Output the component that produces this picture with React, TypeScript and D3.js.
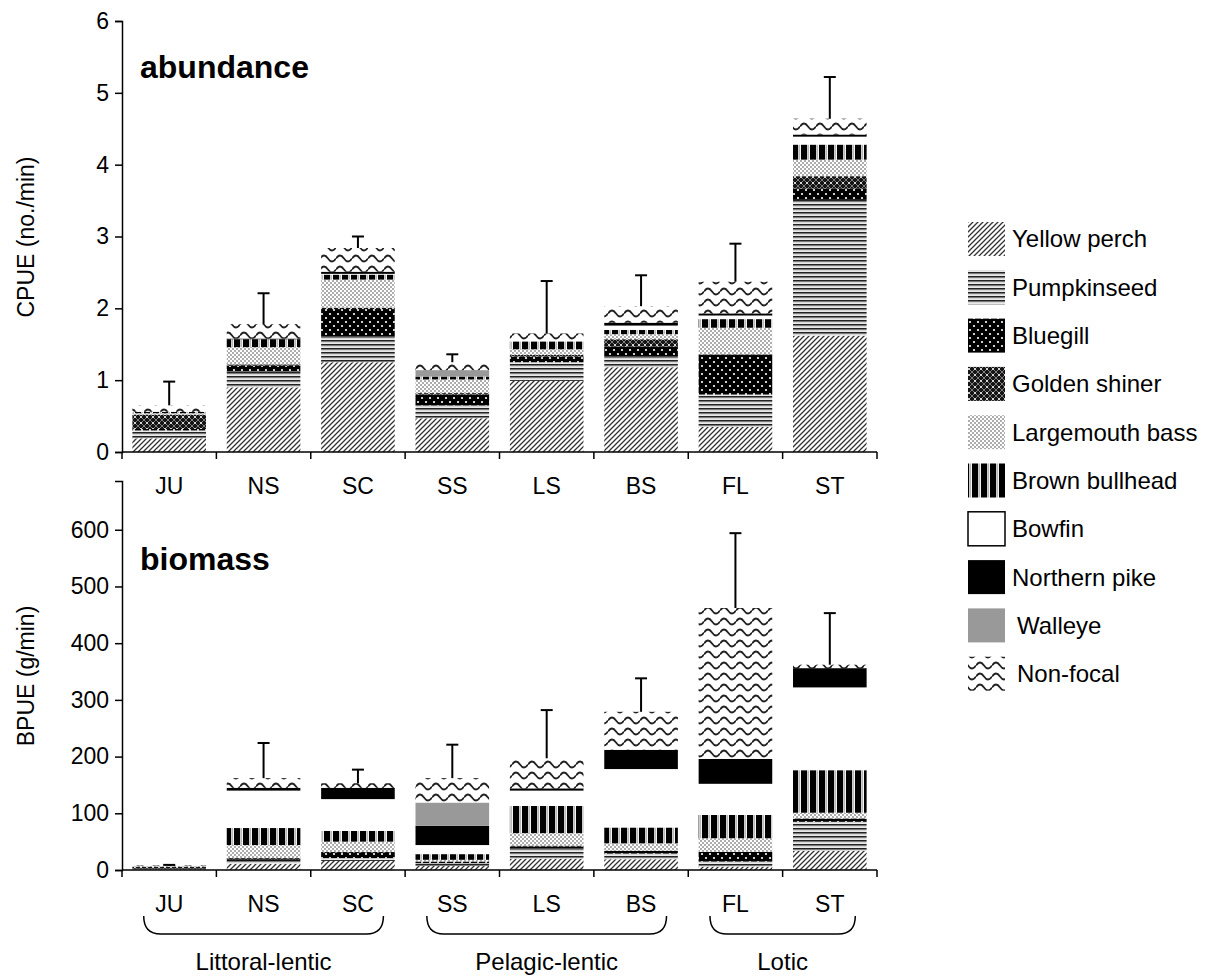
import { useEffect, useRef } from 'react'
import * as d3 from 'd3'

// sites along the x axis
const sites = ['JU', 'NS', 'SC', 'SS', 'LS', 'BS', 'FL', 'ST']

// stacking order, bottom to top
const species = [
  'Yellow perch',
  'Pumpkinseed',
  'Bluegill',
  'Golden shiner',
  'Largemouth bass',
  'Brown bullhead',
  'Bowfin',
  'Northern pike',
  'Walleye',
  'Non-focal',
]

// CPUE (no./min), one row per site, columns follow `species`
const abundance = [
  [0.19, 0.11, 0.02, 0.2, 0.02, 0.02, 0, 0, 0, 0.09],
  [0.9, 0.22, 0.08, 0.02, 0.24, 0.11, 0, 0.01, 0, 0.2],
  [1.25, 0.36, 0.38, 0.02, 0.39, 0.07, 0.01, 0.03, 0, 0.33],
  [0.47, 0.18, 0.15, 0.02, 0.19, 0.04, 0, 0, 0.09, 0.11],
  [0.99, 0.26, 0.08, 0.02, 0.08, 0.11, 0, 0, 0, 0.11],
  [1.18, 0.15, 0.14, 0.1, 0.07, 0.06, 0.06, 0.04, 0, 0.23],
  [0.35, 0.45, 0.55, 0.01, 0.37, 0.12, 0.05, 0.03, 0, 0.44],
  [1.62, 1.89, 0.16, 0.17, 0.23, 0.21, 0.11, 0.03, 0, 0.22],
]
// mean + SE (top of error bar)
const abundanceErr = [0.98, 2.21, 3.0, 1.36, 2.38, 2.46, 2.9, 5.22]

// BPUE (g/min)
const biomass = [
  [1, 1, 1, 3, 1, 0, 0, 0, 0, 1],
  [11, 5, 3, 2, 23, 30, 66, 5, 0, 17],
  [16, 5, 9, 2, 18, 19, 56, 20, 0, 8],
  [7, 5, 3, 0, 3, 10, 16, 34, 41, 43],
  [20, 18, 3, 2, 22, 48, 27, 4, 0, 53],
  [19, 10, 5, 0, 13, 28, 103, 34, 0, 67],
  [6, 9, 17, 0, 24, 41, 55, 44, 0, 266],
  [34, 51, 6, 0, 10, 75, 146, 34, 0, 6],
]
const biomassErr = [9, 224, 177, 221, 282, 338, 594, 453]

const cpueTicks = [0, 1, 2, 3, 4, 5, 6]
const bpueTicks = [0, 100, 200, 300, 400, 500, 600]
const bpueAxisTop = 686

const habitats = [
  { label: 'Littoral-lentic', first: 'JU', last: 'SC' },
  { label: 'Pelagic-lentic', first: 'SS', last: 'BS' },
  { label: 'Lotic', first: 'FL', last: 'ST' },
]

const FONT = '"Liberation Sans", Arial, Helvetica, sans-serif'

export default function App() {
  const svgRef = useRef<SVGSVGElement>(null)

  useEffect(() => {
    if (!svgRef.current) return
    document.body.style.margin = '0'

    const svg = d3.select(svgRef.current)
    svg.selectAll('*').remove()

    const width = 1212
    const height = 978
    svg.attr('width', width).attr('height', height).style('font-family', FONT)

    // ---- patterns ----
    const defs = svg.append('defs')
    const pat = (id: string, w: number, h: number, bg: string) => {
      const p = defs
        .append('pattern')
        .attr('id', id)
        .attr('patternUnits', 'userSpaceOnUse')
        .attr('width', w)
        .attr('height', h)
      p.append('rect').attr('width', w).attr('height', h).attr('fill', bg)
      return p
    }

    // yellow perch: diagonal lines
    pat('p0', 5, 5, '#fff')
      .append('path')
      .attr('d', 'M-1,1 l2,-2 M0,5 l5,-5 M4,6 l2,-2')
      .attr('stroke', '#333')
      .attr('stroke-width', 1.3)

    // pumpkinseed: horizontal lines
    const p1 = pat('p1', 4, 4, '#fff')
    p1.append('rect').attr('width', 4).attr('height', 1.6).attr('fill', '#222')
    p1.append('rect').attr('y', 2.6).attr('width', 4).attr('height', 0.6).attr('fill', '#999')

    // bluegill: white dots on black
    const p2 = pat('p2', 8, 8, '#000')
    p2.append('circle').attr('cx', 2).attr('cy', 2).attr('r', 1.1).attr('fill', '#fff')
    p2.append('circle').attr('cx', 6).attr('cy', 6).attr('r', 1.1).attr('fill', '#fff')

    // golden shiner: dark crosshatch
    const p3 = pat('p3', 6, 6, '#151515')
    p3.append('path').attr('d', 'M0,0 L6,6 M6,0 L0,6').attr('stroke', '#888').attr('stroke-width', 0.9)
    p3.append('circle').attr('cx', 3).attr('cy', 3).attr('r', 0.9).attr('fill', '#fff')

    // largemouth bass: fine dark stipple on white
    const p4 = pat('p4', 4, 4, '#fff')
    p4.append('circle').attr('cx', 1).attr('cy', 1).attr('r', 0.8).attr('fill', '#444')
    p4.append('circle').attr('cx', 3).attr('cy', 3).attr('r', 0.8).attr('fill', '#444')

    // brown bullhead: thick vertical bars
    const p5 = pat('p5', 9, 9, '#fff')
    p5.append('rect').attr('width', 6.2).attr('height', 9).attr('fill', '#000')
    p5.append('rect').attr('x', 7.3).attr('width', 0.8).attr('height', 9).attr('fill', '#999')

    // non-focal: waves
    pat('p9', 16, 11, '#fff')
      .append('path')
      .attr('d', 'M0,5.5 C2.7,1.5 5.3,1.5 8,5.5 S13.3,9.5 16,5.5')
      .attr('fill', 'none')
      .attr('stroke', '#222')
      .attr('stroke-width', 1.8)

    const fills = [
      'url(#p0)',
      'url(#p1)',
      'url(#p2)',
      'url(#p3)',
      'url(#p4)',
      'url(#p5)',
      '#fff',
      '#000',
      '#999',
      'url(#p9)',
    ]

    // ---- scales ----
    const x = d3
      .scaleBand()
      .domain(sites)
      .range([122, 877])
      .paddingInner(0.22)
      .paddingOuter(0.11)
    const step = x.step()
    const center = (s: string) => x(s)! + x.bandwidth() / 2

    const yTop = d3.scaleLinear().domain([0, 6]).range([452, 21])
    const yBot = d3.scaleLinear().domain([0, bpueAxisTop]).range([870, 481])

    const drawPanel = (
      data: number[][],
      err: number[],
      y: d3.ScaleLinear<number, number>,
      ticks: number[],
      title: string,
      titleY: number,
      yLabel: string,
      labelY: number,
    ) => {
      const rows = data.map((vals, i) => {
        const r: Record<string, number | string> = { site: sites[i] }
        species.forEach((s, j) => (r[s] = vals[j]))
        return r
      })
      const stacked = d3
        .stack<Record<string, number | string>>()
        .keys(species)
        .value((d, k) => d[k] as number)(rows)

      const g = svg.append('g')

      stacked.forEach((layer, j) => {
        g.append('g')
          .selectAll('rect')
          .data(layer.filter(d => d[1] - d[0] > 0))
          .enter()
          .append('rect')
          .attr('x', d => x(d.data.site as string)!)
          .attr('width', x.bandwidth())
          .attr('y', d => y(d[1]))
          .attr('height', d => y(d[0]) - y(d[1]))
          .attr('fill', fills[j])
      })

      // error bars
      const totals = data.map(v => d3.sum(v))
      const eb = g.append('g').attr('stroke', '#000').attr('stroke-width', 2)
      sites.forEach((s, i) => {
        const cx = center(s)
        eb.append('line').attr('x1', cx).attr('x2', cx).attr('y1', y(totals[i])).attr('y2', y(err[i]))
        eb.append('line')
          .attr('x1', cx - 6)
          .attr('x2', cx + 6)
          .attr('y1', y(err[i]))
          .attr('y2', y(err[i]))
      })

      // y axis
      const ax = g
        .append('g')
        .attr('transform', 'translate(122,0)')
        .call(
          d3
            .axisLeft(y)
            .tickValues(ticks)
            .tickSize(7)
            .tickSizeOuter(7)
            .tickPadding(6)
            .tickFormat(d3.format('d')),
        )
      ax.selectAll('path, line').attr('stroke', '#000').attr('stroke-width', 1.5)
      ax.selectAll('text').attr('font-size', 23).attr('font-family', FONT).attr('fill', '#000')

      // x axis line and boundary ticks
      const y0 = y(0)
      g.append('line')
        .attr('x1', 122)
        .attr('x2', 877)
        .attr('y1', y0)
        .attr('y2', y0)
        .attr('stroke', '#000')
        .attr('stroke-width', 1.5)
      d3.range(sites.length + 1).forEach(i => {
        g.append('line')
          .attr('x1', 122 + i * step)
          .attr('x2', 122 + i * step)
          .attr('y1', y0)
          .attr('y2', y0 + 7)
          .attr('stroke', '#000')
          .attr('stroke-width', 1.5)
      })

      // category labels
      g.append('g')
        .selectAll('text')
        .data(sites)
        .enter()
        .append('text')
        .attr('x', d => center(d))
        .attr('y', y0 + 42)
        .attr('text-anchor', 'middle')
        .attr('font-size', 23)
        .text(d => d)

      // panel title
      g.append('text')
        .attr('x', 140)
        .attr('y', titleY)
        .attr('font-size', 32)
        .attr('font-weight', 700)
        .text(title)

      // y label
      g.append('text')
        .attr('transform', `translate(34,${labelY}) rotate(-90)`)
        .attr('text-anchor', 'middle')
        .attr('font-size', 23)
        .text(yLabel)
    }

    drawPanel(abundance, abundanceErr, yTop, cpueTicks, 'abundance', 78, 'CPUE (no./min)', 237)
    drawPanel(biomass, biomassErr, yBot, bpueTicks, 'biomass', 570, 'BPUE (g/min)', 676)

    // habitat brackets
    const bt = 916
    const bb = 934
    habitats.forEach(h => {
      const x0 = center(h.first) - step * 0.27
      const x1 = center(h.last) + step * 0.27
      svg
        .append('path')
        .attr(
          'd',
          `M${x0},${bt} C${x0},${bb - 7} ${x0 + 5},${bb} ${x0 + 17},${bb} H${x1 - 17} C${x1 - 5},${bb} ${x1},${bb - 7} ${x1},${bt}`,
        )
        .attr('fill', 'none')
        .attr('stroke', '#000')
        .attr('stroke-width', 1.5)
      svg
        .append('text')
        .attr('x', (x0 + x1) / 2)
        .attr('y', 970)
        .attr('text-anchor', 'middle')
        .attr('font-size', 24)
        .text(h.label)
    })

    // legend
    const legend = svg.append('g')
    species.forEach((s, i) => {
      const cy = 239 + i * 48.3
      legend
        .append('rect')
        .attr('x', 968)
        .attr('y', cy - 17)
        .attr('width', 37)
        .attr('height', 34)
        .attr('fill', fills[i])
        .attr('stroke', s === 'Bowfin' ? '#000' : 'none')
        .attr('stroke-width', 1.5)
      legend
        .append('text')
        .attr('x', s === 'Walleye' || s === 'Non-focal' ? 1017 : 1012)
        .attr('y', cy)
        .attr('dy', '0.35em')
        .attr('font-size', 24)
        .text(s)
    })
  }, [])

  return (
    <div>
      <svg ref={svgRef} style={{ display: 'block' }}></svg>
    </div>
  )
}
